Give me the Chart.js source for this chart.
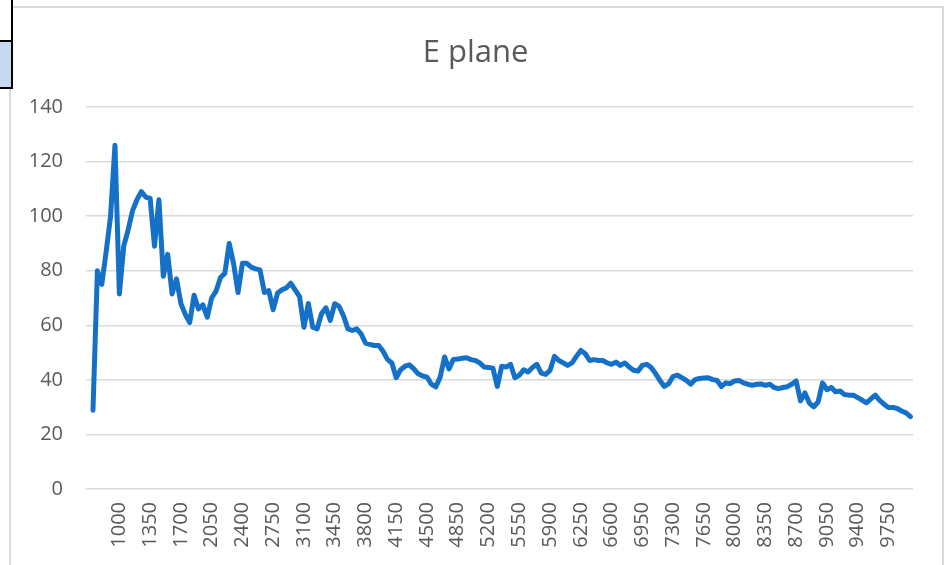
<!DOCTYPE html>
<html>
<head>
<meta charset="utf-8">
<script src="https://cdn.jsdelivr.net/npm/chart.js@4.4.1/dist/chart.umd.min.js"></script>
<style>
  html, body { margin: 0; padding: 0; background: #fff; }
  body { width: 949px; height: 565px; position: relative; overflow: hidden; }
  #chart { position: absolute; left: 0; top: 0; }
  .frame { position: absolute; left: 9px; top: 6px; width: 931px; height: 620px; border: 2px solid #d9d9d9; pointer-events: none; }
  .cell-top { position: absolute; left: 0; top: 0; width: 11px; height: 40px; background: #fff; border-right: 2px solid #000; border-bottom: 2px solid #000; }
  .cell-sel { position: absolute; left: 0; top: 42px; width: 11px; height: 45px; background: #c6d9f0; border-right: 2px solid #000; border-bottom: 2px solid #000; }
</style>
</head>
<body>
<canvas id="chart" width="949" height="565"></canvas>
<div class="frame"></div>
<div class="cell-top"></div>
<div class="cell-sel"></div>
<script>
// Categories (x values, step 50)
const wavelengths = [
    700, 750, 800, 850, 900, 950, 1000, 1050, 1100, 1150, 1200, 1250, 1300, 1350, 1400, 1450,
    1500, 1550, 1600, 1650, 1700, 1750, 1800, 1850, 1900, 1950, 2000, 2050, 2100, 2150, 2200,
    2250, 2300, 2350, 2400, 2450, 2500, 2550, 2600, 2650, 2700, 2750, 2800, 2850, 2900, 2950,
    3000, 3050, 3100, 3150, 3200, 3250, 3300, 3350, 3400, 3450, 3500, 3550, 3600, 3650, 3700,
    3750, 3800, 3850, 3900, 3950, 4000, 4050, 4100, 4150, 4200, 4250, 4300, 4350, 4400, 4450,
    4500, 4550, 4600, 4650, 4700, 4750, 4800, 4850, 4900, 4950, 5000, 5050, 5100, 5150, 5200,
    5250, 5300, 5350, 5400, 5450, 5500, 5550, 5600, 5650, 5700, 5750, 5800, 5850, 5900, 5950,
    6000, 6050, 6100, 6150, 6200, 6250, 6300, 6350, 6400, 6450, 6500, 6550, 6600, 6650, 6700,
    6750, 6800, 6850, 6900, 6950, 7000, 7050, 7100, 7150, 7200, 7250, 7300, 7350, 7400, 7450,
    7500, 7550, 7600, 7650, 7700, 7750, 7800, 7850, 7900, 7950, 8000, 8050, 8100, 8150, 8200,
    8250, 8300, 8350, 8400, 8450, 8500, 8550, 8600, 8650, 8700, 8750, 8800, 8850, 8900, 8950,
    9000, 9050, 9100, 9150, 9200, 9250, 9300, 9350, 9400, 9450, 9500, 9550, 9600, 9650, 9700,
    9750, 9800, 9850, 9900, 9950, 10000
];

// Series values
const ePlane = [
    28.9, 80, 75, 87, 100, 126, 71.5, 89, 95, 102, 106, 109, 107, 106.5, 89, 106,
    78, 86, 71.5, 77, 68, 64, 61, 71, 66, 67.5, 63, 70, 72.5, 77.5, 79,
    90, 82.5, 72, 82.7, 82.7, 81.3, 80.7, 80.3, 72, 72.7, 65.7, 71.8, 73, 73.7, 75.4,
    73, 70.5, 59.3, 68, 59.3, 58.7, 64.2, 66.4, 61.8, 67.9, 66.9, 63.5, 58.7, 58.1, 58.7,
    56.9, 53.5, 53, 52.6, 52.6, 50.5, 47.5, 46.2, 40.8, 43.7, 45, 45.5, 44, 42.2, 41.4,
    41, 38.4, 37.4, 41, 48.4, 44, 47.5, 47.6, 47.9, 48.1, 47.4, 47.1, 46.2, 44.7, 44.5,
    44.3, 37.6, 45, 44.7, 45.7, 40.8, 41.7, 43.7, 42.9, 44.5, 45.7, 42.5, 42, 43.5, 48.6,
    47.1, 46.2, 45.3, 46.2, 48.6, 50.8, 49.6, 47.1, 47.4, 47.1, 47.1, 46.2, 45.7, 46.5, 45.3,
    46.2, 44.7, 43.5, 43.2, 45.3, 45.7, 44.5, 42.3, 39.8, 37.6, 38.6, 41.3, 41.7, 40.8, 39.8,
    38.4, 40.1, 40.5, 40.7, 40.8, 40.1, 39.8, 37.6, 38.9, 38.6, 39.6, 39.8, 38.9, 38.4, 38,
    38.4, 38.5, 38, 38.4, 37.2, 36.8, 37.2, 37.5, 38.4, 39.6, 32.3, 35.2, 31.5, 30.1, 31.9,
    38.9, 36.4, 37.2, 35.6, 35.9, 34.6, 34.4, 34.4, 33.5, 32.6, 31.6, 33, 34.4, 32.5, 31.1,
    29.9, 29.9, 29.5, 28.6, 27.9, 26.5
];

// Tick labels
const xTickLabels = [1000, 1350, 1700, 2050, 2400, 2750, 3100, 3450, 3800, 4150, 4500, 4850, 5200,
    5550, 5900, 6250, 6600, 6950, 7300, 7650, 8000, 8350, 8700, 9050, 9400, 9750];
const yTickLabels = [0, 20, 40, 60, 80, 100, 120, 140];

const textColor = '#595959';
const gridColor = '#d9d9d9';
const fontFamily = "'Open Sans', 'Liberation Sans', sans-serif";

const points = wavelengths.map((w, i) => ({ x: w, y: ePlane[i] }));

const ctx = document.getElementById('chart').getContext('2d');
new Chart(ctx, {
    type: 'line',
    data: {
        datasets: [{
            label: 'E plane',
            data: points,
            borderColor: '#1570C8',
            borderWidth: 5,
            pointRadius: 0,
            tension: 0,
            borderJoinStyle: 'round',
            borderCapStyle: 'round',
            fill: false
        }]
    },
    options: {
        responsive: false,
        animation: false,
        devicePixelRatio: 1,
        // left/right padding nearly equal so the title is centred like Excel's
        layout: { padding: { left: 28, right: 26, top: 0, bottom: 0 } },
        plugins: {
            legend: { display: false },
            tooltip: { enabled: false },
            title: {
                display: true,
                text: 'E plane',
                color: textColor,
                font: { family: fontFamily, size: 31, weight: 'normal' },
                padding: { top: 35, bottom: 34.8 }
            }
        },
        scales: {
            x: {
                type: 'linear',
                min: 620.4,
                max: 10029.4,
                border: { display: false },
                grid: { display: false, drawTicks: false },
                afterBuildTicks: (scale) => {
                    scale.ticks = xTickLabels.map(v => ({ value: v }));
                },
                afterFit: (scale) => { scale.height = 76; },
                ticks: {
                    autoSkip: false,
                    minRotation: 90,
                    maxRotation: 90,
                    padding: 13,
                    color: textColor,
                    font: { family: fontFamily, size: 20 },
                    callback: (v) => String(v)
                }
            },
            y: {
                min: 0,
                max: 140,
                border: { display: false },
                grid: { color: gridColor, lineWidth: 1.5, drawTicks: false },
                afterBuildTicks: (scale) => {
                    scale.ticks = yTickLabels.map(v => ({ value: v }));
                },
                afterFit: (scale) => { scale.width = 58; },
                ticks: {
                    padding: 23,
                    color: textColor,
                    font: { family: fontFamily, size: 20 },
                    callback: (v) => String(v)
                }
            },
            // empty spacer on the right so the plot ends where Excel's does
            spacer: {
                type: 'linear',
                position: 'right',
                border: { display: false },
                grid: { display: false, drawTicks: false },
                ticks: { display: false },
                afterFit: (scale) => { scale.width = 10; }
            }
        }
    }
});
</script>
</body>
</html>
